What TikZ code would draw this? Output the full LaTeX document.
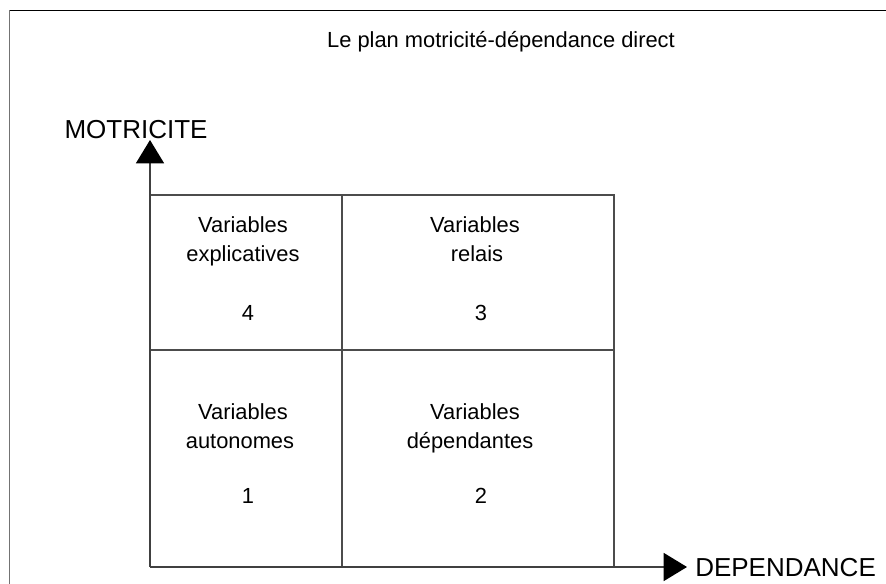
\documentclass[tikz,border=0pt]{standalone}
\usepackage{fontspec}
\setmainfont{Liberation Sans}
\usetikzlibrary{arrows.meta}
\begin{document}
\begin{tikzpicture}[x=0.75pt,y=-0.75pt,
  gridline/.style={draw=black!70,line width=1.1pt},
  axisline/.style={draw=black!75,line width=1.1pt,-{Triangle[length=17.5pt,width=21pt,color=black,fill=black]}},
  celltext/.style={font=\fontsize{16.4}{22}\selectfont,align=center,text=black,inner sep=0pt,text height=11.8pt,text depth=3.4pt},
  axislabel/.style={font=\fontsize{19.5}{23}\selectfont,text=black,inner sep=0pt},
  frameline/.style={draw=black,line width=1pt}]
\useasboundingbox (0,0) rectangle (886,584);
\fill[white] (0,0) rectangle (886,584);
% frame
\coordinate (fA) at (9,10.5);
\coordinate (fB) at (886,10.5);
\coordinate (fC) at (9.5,584);
\draw[frameline] (fB) -- (fA);
\draw[draw=black!55,line width=1.3pt] (9.5,10.5) -- (fC);
% title
\node[celltext] (title) at (501,42) {Le plan motricité-dépendance direct};
% grid coordinates
\coordinate (o) at (150,567);
\coordinate (tl) at (150,195);
\coordinate (tm) at (342,195);
\coordinate (tr) at (614,195);
\coordinate (ml) at (150,350);
\coordinate (mr) at (614,350);
\coordinate (bm) at (342,567);
\coordinate (br) at (614,567);
\coordinate (ytip) at (150,140);
\coordinate (xtip) at (687,567);
% grid
\draw[gridline] (tl) -- (tr) -- (br);
\draw[gridline] (ml) -- (mr);
\draw[gridline] (tm) -- (bm);
% axes
\draw[axisline] (o) -- (ytip);
\draw[axisline] (o) -- (xtip);
\node[axislabel] (mot) at (136,130) {MOTRICITE};
\node[axislabel,anchor=west] (dep) at (695,568) {DEPENDANCE};
% cells
\node[celltext] (c4a) at (243,227) {Variables};
\node[celltext] (c4b) at (243,256) {explicatives};
\node[celltext] (c4n) at (248,315) {4};
\node[celltext] (c3a) at (475,227) {Variables};
\node[celltext] (c3b) at (477,256) {relais};
\node[celltext] (c3n) at (481,315) {3};
\node[celltext] (c1a) at (243,414) {Variables};
\node[celltext] (c1b) at (240,443) {autonomes};
\node[celltext] (c1n) at (248,498) {1};
\node[celltext] (c2a) at (475,414) {Variables};
\node[celltext] (c2b) at (470,443) {dépendantes};
\node[celltext] (c2n) at (481,498) {2};
\end{tikzpicture}
\end{document}
